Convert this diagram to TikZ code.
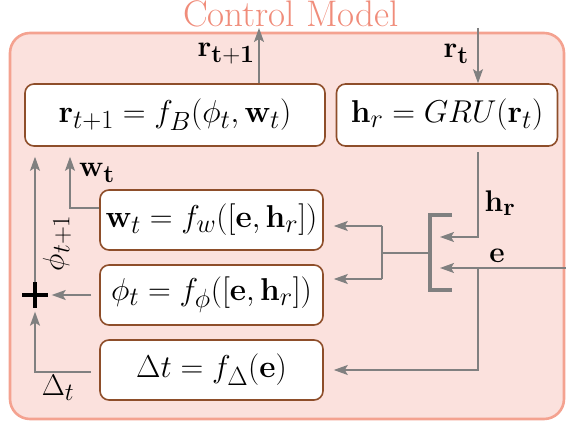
\documentclass[tikz,border=0pt]{standalone}
\usepackage{amsmath}
\usepackage{graphicx}
\usetikzlibrary{arrows.meta}
\definecolor{panelfill}{HTML}{FBE1DD}
\definecolor{panelline}{HTML}{F4A290}
\definecolor{titlecol}{HTML}{F08C7A}
\definecolor{boxline}{HTML}{8E4E2A}
\definecolor{wire}{HTML}{808080}
% math enlarged beyond the largest math design size
\newcommand{\blockmath}[1]{\scalebox{1.27}{$#1$}}
\newcommand{\wiremath}[1]{\scalebox{1.2}{$#1$}}
\tikzset{
  fn/.style={draw=boxline, line width=1.6pt, fill=white, rounded corners=9pt,
    inner sep=0pt, font=\fontsize{24.88}{30}\selectfont},
  wireline/.style={draw=wire, line width=1.4pt},
  arr/.style={wireline, -{Stealth[length=14pt,width=10pt,inset=3pt]}},
  lbl/.style={inner sep=0pt, font=\fontsize{24.88}{30}\selectfont},
}
\begin{document}
\begin{tikzpicture}[x=1pt, y=-1pt]
\useasboundingbox (0,0) rectangle (566,425);

% outer panel and its title
\draw[panelline, fill=panelfill, line width=2.6pt, rounded corners=20pt]
  (10,33) rectangle (564,419);
\node[text=titlecol, inner sep=0pt, anchor=base, font=\fontsize{37}{42}\selectfont] (title) at (291,27) {Control Model};

% function blocks
\node[fn, minimum width=300pt, minimum height=62pt] (fb) at (175,115)
  {\blockmath{\mathbf{r}_{t+1} = f_B(\phi_t, \mathbf{w}_t)}};
\node[fn, minimum width=221pt, minimum height=62pt] (gru) at (447,115)
  {\blockmath{\mathbf{h}_r = GRU(\mathbf{r}_t)}};
\node[fn, minimum width=223pt, minimum height=60pt] (fw) at (211.5,220)
  {\blockmath{\mathbf{w}_t = f_w([\mathbf{e}, \mathbf{h}_r])}};
\node[fn, minimum width=223pt, minimum height=60pt] (fphi) at (211.5,295)
  {\blockmath{\phi_t = f_\phi([\mathbf{e}, \mathbf{h}_r])}};
\node[fn, minimum width=223pt, minimum height=60pt] (fdelta) at (211.5,370)
  {\blockmath{\Delta t = f_\Delta(\mathbf{e})}};

% summation sign
\node[inner sep=0pt, minimum size=25pt] (plus) at (35,295) {};
\draw[line width=3.6pt] (plus.west) -- (plus.east) (plus.north) -- (plus.south);

% junction points
\coordinate (rout) at (259,28);
\coordinate (rin) at (478,28);
\coordinate (hrturn) at (478,237);
\coordinate (eright) at (566,268);
\coordinate (efork) at (478,268);
\coordinate (edown) at (478,370);
\coordinate (brtop) at (452,215);
\coordinate (brbot) at (452,290);
\coordinate (brmid) at (430,253);
\coordinate (split) at (382,253);
\coordinate (splitw) at (382,226);
\coordinate (splitp) at (382,279);
\coordinate (wturn) at (70,208);
\coordinate (dturn) at (35,372);

% top inputs / outputs
\draw[arr] (fb.north -| rout) -- (rout);
\draw[arr] (rin) -- (gru.north -| rin);
\node[lbl, anchor=east] (lrout) at (255,54) {\wiremath{\mathbf{r_{t+1}}}};
\node[lbl, anchor=east] (lrin) at (469,54) {\wiremath{\mathbf{r_t}}};

% concatenation bracket
\draw[wire, line width=4pt] (brtop) -- (brtop -| brmid) -- (brbot -| brmid) -- (brbot);
\draw[arr, shorten <=5pt] (gru.south -| hrturn) -- (hrturn) -- (hrturn -| 440,0);
\draw[arr] (eright) -- (eright -| 440,0);
\draw[arr, shorten >=10pt] (efork) -- (edown) -- (fdelta.east |- edown);
\node[lbl] (lhr) at (500,203) {\wiremath{\mathbf{h_r}}};
\node[lbl] (le) at (497,256) {\wiremath{\mathbf{e}}};

% fan-out to the two heads
\draw[wireline] (brmid) -- (split);
\draw[wireline] (splitw) -- (splitp);
\draw[arr, shorten >=10pt] (splitw) -- (splitw -| fw.east);
\draw[arr, shorten >=10pt] (splitp) -- (splitp -| fphi.east);

% left side: weights, phase update and time step
\draw[arr, shorten >=10pt] (fw.west |- wturn) -- (wturn) -- (wturn |- fb.south);
\node[lbl] (lw) at (97,173) {\wiremath{\mathbf{w_t}}};
\draw[arr, shorten <=8pt, shorten >=4pt] (fphi.west) -- (plus.east);
\draw[arr, shorten >=10pt] (plus.north) -- (plus.north |- fb.south);
\node[lbl, rotate=90] (lphi) at (57,243) {\wiremath{\phi_{t+1}}};
\draw[arr, shorten <=8pt, shorten >=4pt] (fdelta.west |- dturn) -- (dturn) -- (plus.south);
\node[lbl] (ldelta) at (58,388) {\wiremath{\Delta_t}};
\end{tikzpicture}
\end{document}
